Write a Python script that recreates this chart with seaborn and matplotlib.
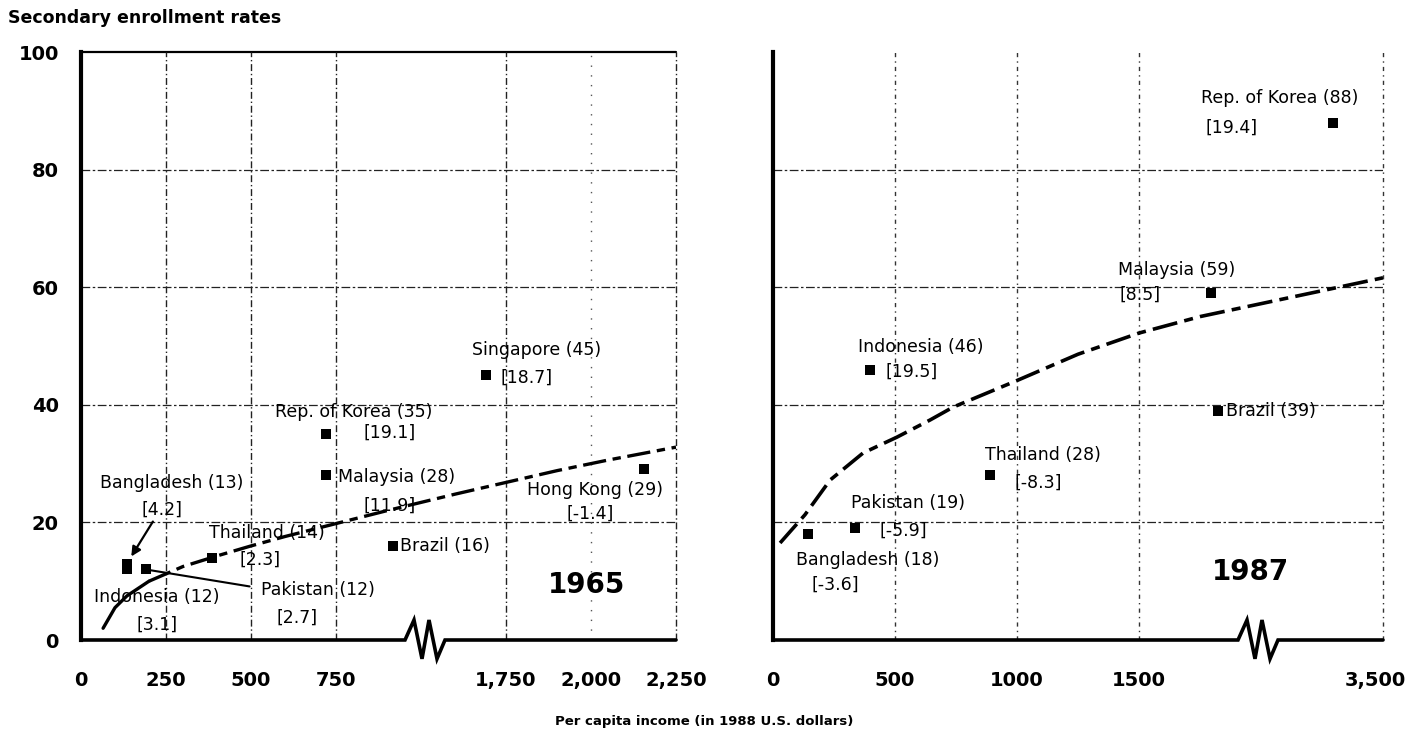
import numpy as np
import matplotlib
matplotlib.use("Agg")
import matplotlib.pyplot as plt
import matplotlib.transforms as mtransforms
from matplotlib.ticker import NullLocator
import seaborn as sns
import pandas as pd

# ---------------- data ----------------
countries_1965 = ["Bangladesh", "Indonesia", "Pakistan", "Thailand", "Rep. of Korea",
                  "Malaysia", "Brazil", "Singapore", "Hong Kong"]
income_1965 = [135, 135, 190, 385, 720, 720, 918, 1690, 2155]
enroll_1965 = [13, 12, 12, 14, 35, 28, 16, 45, 29]
growth_1965 = ["4.2", "3.1", "2.7", "2.3", "19.1", "11.9", None, "18.7", "-1.4"]

trend_x_1965 = [65, 100, 135, 200, 300, 400, 500, 600, 750, 900, 1000, 1600, 1750, 1900, 2050, 2250]
trend_y_1965 = [2, 5.5, 7.5, 10, 12.5, 14.3, 16, 17.6, 19.8, 22, 23.4, 24.8, 26.8, 28.8, 30.6, 32.8]

countries_1987 = ["Bangladesh", "Pakistan", "Indonesia", "Thailand", "Malaysia", "Brazil", "Rep. of Korea"]
income_1987 = [143, 336, 398, 889, 1795, 1824, 3295]
enroll_1987 = [18, 19, 46, 28, 59, 39, 88]
growth_1987 = ["-3.6", "-5.9", "19.5", "-8.3", "8.5", None, "19.4"]

trend_x_1987 = [29, 131, 234, 369, 508, 643, 738, 1004, 1250, 1500, 1750, 2000, 3250, 3500]
trend_y_1987 = [16.5, 21.3, 27.2, 31.8, 34.5, 37.4, 39.6, 44.2, 48.6, 52.2, 55.0, 57.2, 59.4, 61.6]

yticks = [0, 20, 40, 60, 80, 100]
xticks_1965 = [0, 250, 500, 750, 1750, 2000, 2250]
xticklabels_1965 = ["0", "250", "500", "750", "1,750", "2,000", "2,250"]
xticks_1987 = [0, 500, 1000, 1500, 3500]
xticklabels_1987 = ["0", "500", "1000", "1500", "3,500"]

# ---------------- style ----------------
sns.set_style("white")
plt.rcParams["font.family"] = ["DejaVu Sans"]
for k in ["text.color", "axes.labelcolor", "xtick.color", "ytick.color", "axes.edgecolor"]:
    plt.rcParams[k] = "black"

W, H = 1410, 741
fig = plt.figure(figsize=(W / 100, H / 100), dpi=100)

def px_axes(x0, x1, y0, y1):
    return fig.add_axes([x0 / W, 1 - y1 / H, (x1 - x0) / W, (y1 - y0) / H])

axL = px_axes(81, 676, 52, 640)
axR = px_axes(773, 1383, 52, 640)

# broken-axis scales
def make_scale(b0, b1):
    gap = b1 - b0
    def fwd(x):
        x = np.asarray(x, dtype=float)
        return np.where(x <= b0, x, np.where(x < b1, b0, x - gap))
    def inv(c):
        c = np.asarray(c, dtype=float)
        return np.where(c <= b0, c, c + gap)
    return fwd, inv

axL.set_xscale("function", functions=make_scale(1000, 1500))
axR.set_xscale("function", functions=make_scale(2000, 3000))

LBL = 12.5
TICKF = 14

def base(ax, xticks, xlabels, xmax, left_labels):
    ax.set_xlim(0, xmax)
    ax.set_ylim(0, 100)
    for s in ["top", "right", "bottom"]:
        ax.spines[s].set_visible(False)
    ax.spines["left"].set_linewidth(3)
    ax.spines["left"].set_color("black")
    ax.set_xticks(xticks)
    ax.set_xticklabels(xlabels, fontsize=TICKF, fontweight="bold")
    ax.xaxis.set_minor_locator(NullLocator())
    ax.tick_params(axis="x", direction="out", length=9, width=1.0, pad=13, color="#444444")
    ax.set_yticks(yticks)
    if left_labels:
        ax.set_yticklabels([str(v) for v in yticks], fontsize=TICKF, fontweight="bold")
        ax.tick_params(axis="y", direction="out", length=9, width=1.4, pad=7)
    else:
        ax.set_yticklabels([])
        ax.tick_params(axis="y", length=0)
    ax.patch.set_alpha(0)

base(axL, xticks_1965, xticklabels_1965, 2250, True)
base(axR, xticks_1987, xticklabels_1987, 3500, False)

# nudge the last right-panel tick label inward so it stays on the canvas
last = axR.get_xticklabels()[-1]
last.set_transform(last.get_transform() + mtransforms.ScaledTranslation(-8 / 100, 0, fig.dpi_scale_trans))

# grid lines
for v in [20, 40, 60, 80]:
    for ax in (axL, axR):
        ax.axhline(v, color="#222222", lw=0.9, ls=(0, (7, 2, 2, 2)), zorder=1)
axL.axhline(100, color="black", lw=1.6, zorder=1, clip_on=False)
for v in [250, 500, 750, 1750, 2250]:
    axL.axvline(v, color="#222222", lw=1.0, ls=(0, (5, 2, 1, 2)), zorder=1, clip_on=False)
axL.axvline(2000, color="#555555", lw=1.0, ls=(0, (1, 6)), zorder=1)
for v in [500, 1000, 1500, 3500]:
    axR.axvline(v, color="#333333", lw=1.0, ls=(0, (3, 3, 1, 3)), zorder=1, clip_on=False)

# bottom axis line with zig-zag break
def bottom_axis(ax, width_px, zz_start_px):
    tr = mtransforms.blended_transform_factory(ax.transAxes, ax.transData)
    zx = np.array([0, 9, 17, 24, 32, 40]) + zz_start_px
    zy = [0, 3.4, -3.2, 3.4, -3.2, 0]
    xs = [0] + list(zx / width_px) + [1]
    ys = [0] + zy + [0]
    ax.plot(xs, ys, transform=tr, color="black", lw=2.6, clip_on=False, zorder=5,
            solid_joinstyle="miter")

bottom_axis(axL, 595, 405 - 81)
bottom_axis(axR, 610, 1238 - 773)

# trend lines
dash = (0, (7, 2, 2.5, 2))
sns.lineplot(x=trend_x_1965[:4], y=trend_y_1965[:4], ax=axL, color="black", lw=2.4,
             sort=False, estimator=None, zorder=4)
sns.lineplot(x=trend_x_1965[3:], y=trend_y_1965[3:], ax=axL, color="black", lw=2.4,
             sort=False, estimator=None, linestyle=dash, zorder=4)
sns.lineplot(x=trend_x_1987, y=trend_y_1987, ax=axR, color="black", lw=2.6,
             sort=False, estimator=None, linestyle=dash, zorder=4)

# markers
df65 = pd.DataFrame({"income": income_1965, "enroll": enroll_1965})
df87 = pd.DataFrame({"income": income_1987, "enroll": enroll_1987})
sns.scatterplot(data=df65, x="income", y="enroll", ax=axL, marker="s", s=42,
                color="black", linewidth=0, zorder=6)
sns.scatterplot(data=df87, x="income", y="enroll", ax=axR, marker="s", s=42,
                color="black", linewidth=0, zorder=6)
for ax in (axL, axR):
    ax.set_xlabel("")
    ax.set_ylabel("")

# label offsets in pixels (name dx, dy, ha), (bracket dx, dy)
name_off_1965 = [(45, 81, "center"), (30, -28, "center"), (172, -21, "center"),
                 (55, 25, "center"), (28, 22, "center"), (12, -2, "left"),
                 (7, 0, "left"), (51, 25, "center"), (-49, -21, "center")]
br_off_1965 = [(35, 54), (30, -55), (151, -48), (48, -2), (64, 1), (64, -30),
               None, (41, -2), (-54, -44)]

name_off_1987 = [(60, -26, "center"), (53, 25, "center"), (51, 23, "center"),
                 (53, 20, "center"), (-34, 23, "center"), (8, 0, "left"),
                 (-53, 25, "center")]
br_off_1987 = [(27, -51), (48, -2), (42, -2), (48, -7), (-71, -2), None, (-101, -5)]

def labels(ax, names, xs, ys, grows, noff, boff):
    for n, x, y, g, no, bo in zip(names, xs, ys, grows, noff, boff):
        ax.annotate(f"{n} ({y})", xy=(x, y), xytext=(no[0], no[1]), textcoords="offset pixels",
                    ha=no[2], va="center", fontsize=LBL, zorder=7)
        if g is not None and bo is not None:
            ax.annotate(f"[{g}]", xy=(x, y), xytext=bo, textcoords="offset pixels",
                        ha="center", va="center", fontsize=LBL, zorder=7)

labels(axL, countries_1965, income_1965, enroll_1965, growth_1965, name_off_1965, br_off_1965)
labels(axR, countries_1987, income_1987, enroll_1987, growth_1987, name_off_1987, br_off_1987)

# Bangladesh arrow and Pakistan leader (1965)
axL.annotate("", xy=(income_1965[0], enroll_1965[0]), xytext=(26, 42), textcoords="offset pixels",
             arrowprops=dict(arrowstyle="-|>", color="black", lw=1.6, shrinkA=0, shrinkB=6,
                             mutation_scale=14))
axL.annotate("", xy=(income_1965[2], enroll_1965[2]), xytext=(104, -17), textcoords="offset pixels",
             arrowprops=dict(arrowstyle="-", color="black", lw=1.5, shrinkA=0, shrinkB=3))

# year labels
axL.text(0.850, 9.4, "1965", transform=mtransforms.blended_transform_factory(axL.transAxes, axL.transData),
         ha="center", va="center", fontsize=20, fontweight="bold")
axR.text(0.782, 11.6, "1987", transform=mtransforms.blended_transform_factory(axR.transAxes, axR.transData),
         ha="center", va="center", fontsize=20, fontweight="bold")

fig.text(8 / W, 1 - 18 / H, "Secondary enrollment rates", ha="left", va="center",
         fontsize=12.5, fontweight="bold")
fig.text(704 / W, 1 - 722 / H, "Per capita income (in 1988 U.S. dollars)", ha="center",
         va="center", fontsize=9.5, fontweight="bold")

fig.savefig("out.png", dpi=100, facecolor="white")
